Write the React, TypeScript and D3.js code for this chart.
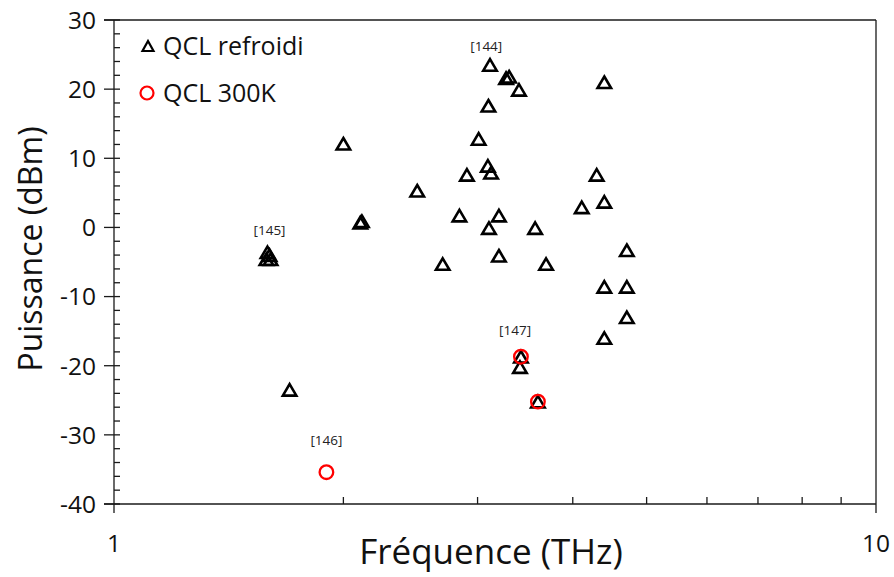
import React from "react";
import * as d3 from "d3";

const cooledFreq = [1.59, 1.6, 1.585, 1.605, 1.7, 2.0, 2.105, 2.115, 2.5, 2.7, 2.84, 2.905, 3.01, 3.1, 3.115, 3.095, 3.125, 3.105, 3.2, 3.2, 3.27, 3.3, 3.4, 3.42, 3.41, 3.57, 3.6, 3.69, 4.11, 4.3, 4.4, 4.4, 4.4, 4.4, 4.71, 4.71, 4.71];
const cooledPower = [-3.6, -4.0, -4.6, -4.6, -23.5, 12.1, 0.7, 0.9, 5.3, -5.3, 1.7, 7.6, 12.8, 17.6, 23.5, 8.9, 7.9, -0.1, 1.7, -4.1, 21.6, 21.8, 19.9, -18.7, -20.2, -0.1, -25.2, -5.3, 2.9, 7.6, 21.0, 3.7, -8.6, -16.0, -3.3, -8.6, -13.0];

const warmFreq = [1.9, 3.42, 3.6];
const warmPower = [-35.4, -18.7, -25.2];

const refLabels = ["[144]", "[145]", "[146]", "[147]"];
const refFreq = [3.08, 1.6, 1.9, 3.36];
const refPower = [25.5, -1.1, -31.5, -15.6];

const yTicks = [-40, -30, -20, -10, 0, 10, 20, 30];
const xMajor = [1, 10];
const xMinor = [2, 3, 4, 5, 6, 7, 8, 9];
const yMinor = d3.range(-40, 31, 2).filter((v) => v % 10 !== 0);

const seriesNames = ["QCL refroidi", "QCL 300K"];

const W = 894, H = 577;
const x0 = 114, x1 = 876, y0 = 20, y1 = 504;
const FONT = "'Open Sans', sans-serif";

function tri(cx: number, cy: number, w: number, h: number) {
  return `M${cx},${cy - h / 2}L${cx + w / 2},${cy + h / 2}L${cx - w / 2},${cy + h / 2}Z`;
}

export default function App() {
  const x = d3.scaleLog().domain([1, 10]).range([x0, x1]);
  const y = d3.scaleLinear().domain([-40, 30]).range([y1, y0]);
  const ax = "#1a1a1a";
  return (
    <svg width={W} height={H} style={{ position: "absolute", left: 0, top: 0, background: "#fff" }} fontFamily={FONT}>
      <rect x={0} y={0} width={W} height={H} fill="#fff" />
      <line x1={104} x2={x1} y1={y0} y2={y0} stroke={ax} strokeWidth={1.3} />
      <line x1={x1} x2={x1} y1={y0} y2={513} stroke={ax} strokeWidth={1.3} />
      <line x1={x0} x2={x0} y1={y0} y2={513} stroke={ax} strokeWidth={1.3} />
      <line x1={104} x2={x1} y1={y1} y2={y1} stroke={ax} strokeWidth={1.3} />
      {yTicks.map((v) => (
        <g key={"yt" + v}>
          <line x1={104} x2={120} y1={y(v)} y2={y(v)} stroke={ax} strokeWidth={1.3} />
          <text x={96} y={y(v)} dy="0.36em" textAnchor="end" fontSize={24.5} fill="#111">{v}</text>
        </g>
      ))}
      {yMinor.map((v) => (
        <line key={"ym" + v} x1={x0} x2={120} y1={y(v)} y2={y(v)} stroke={ax} strokeWidth={1.3} />
      ))}
      {xMinor.map((v) => (
        <line key={"xm" + v} x1={x(v)} x2={x(v)} y1={y1} y2={y1 - 7} stroke={ax} strokeWidth={1.3} />
      ))}
      {xMajor.map((v) => (
        <text key={"xl" + v} x={x(v)} y={552} textAnchor="middle" fontSize={24.5} fill="#111">{v}</text>
      ))}
      <text x={491} y={564} textAnchor="middle" fontSize={35} fill="#111">Fréquence (THz)</text>
      <text transform={`translate(42,249) rotate(-90)`} textAnchor="middle" fontSize={32} fill="#111">Puissance (dBm)</text>

      {cooledFreq.map((f, i) => (
        <path key={"c" + i} d={tri(x(f), y(cooledPower[i]), 13.5, 11.5)} fill="none" stroke="#000" strokeWidth={2.6} strokeLinejoin="miter" />
      ))}
      {warmFreq.map((f, i) => (
        <circle key={"w" + i} cx={x(f)} cy={y(warmPower[i])} r={6.8} fill="none" stroke="#ff0000" strokeWidth={2.3} />
      ))}
      {refLabels.map((t, i) => (
        <text key={t} x={x(refFreq[i])} y={y(refPower[i])} textAnchor="middle" fontSize={13.5} fill="#222">{t}</text>
      ))}

      <path d={tri(148, 46, 11, 10)} fill="none" stroke="#000" strokeWidth={2.2} />
      <text x={163} y={55} fontSize={25} fill="#111">{seriesNames[0]}</text>
      <circle cx={147} cy={93} r={6.5} fill="none" stroke="#ff0000" strokeWidth={2.2} />
      <text x={163} y={102} fontSize={25} fill="#111">{seriesNames[1]}</text>
    </svg>
  );
}
